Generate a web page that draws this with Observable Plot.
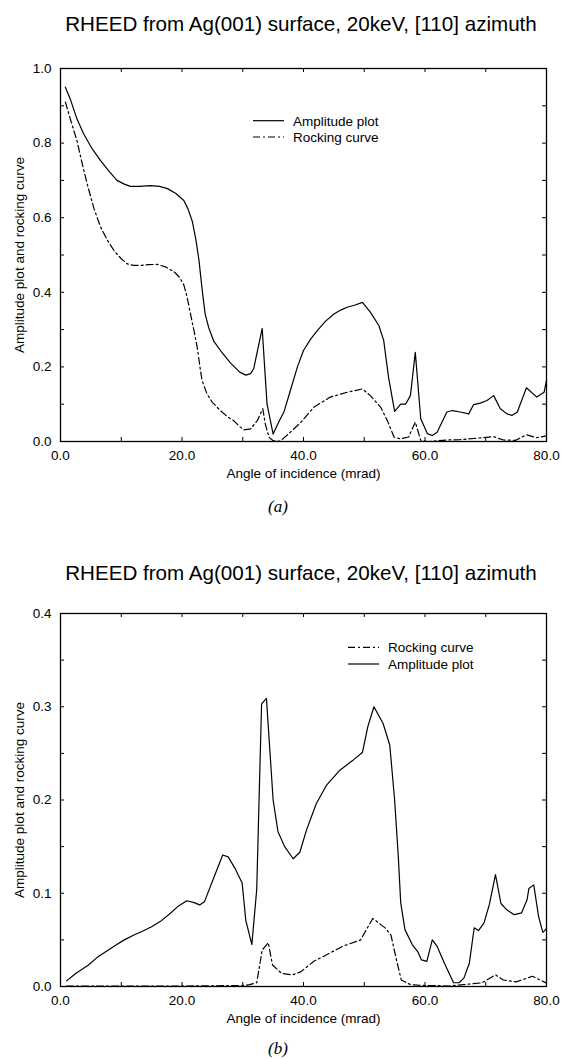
<!DOCTYPE html>
<html>
<head>
<meta charset="utf-8">
<script src="https://cdn.jsdelivr.net/npm/d3@7"></script>
<script src="https://cdn.jsdelivr.net/npm/@observablehq/plot@0.6"></script>
<style>
  html, body { margin: 0; padding: 0; background: #fff; }
  #page { position: relative; width: 561px; height: 1059px; overflow: hidden; background: #fff;
          font-family: "Liberation Sans", Arial, Helvetica, sans-serif; color: #000; }
  .title { position: absolute; left: 0; width: 602px; text-align: center; white-space: nowrap;
           font-size: 20.6px; line-height: 20px; }
  .cap { position: absolute; left: 0; width: 556px; text-align: center;
         font-family: "Liberation Serif", "DejaVu Serif", serif; font-style: italic; font-size: 17px; line-height: 17px; }
  .legend { position: absolute; left: 0; top: 0; }
</style>
</head>
<body>
<div id="page"></div>
<script>
// ---------- data ----------
const titleText = "RHEED from Ag(001) surface, 20keV, [110] azimuth";
const xLabel = "Angle of incidence (mrad)";
const yLabel = "Amplitude plot and rocking curve";
const legendAmplitude = "Amplitude plot";
const legendRocking = "Rocking curve";

const xDomain = [0, 80];
const xTicks = [0, 20, 40, 60, 80];
const xMinorTicks = [0, 10, 20, 30, 40, 50, 60, 70, 80];
const yDomainA = [0, 1];
const yTicksA = [0, 0.2, 0.4, 0.6, 0.8, 1.0];
const yMinorTicksA = [0, 0.1, 0.2, 0.3, 0.4, 0.5, 0.6, 0.7, 0.8, 0.9, 1.0];
const yDomainB = [0, 0.4];
const yTicksB = [0, 0.1, 0.2, 0.3, 0.4];
const yMinorTicksB = [0, 0.05, 0.1, 0.15, 0.2, 0.25, 0.3, 0.35, 0.4];

// panel (a): amplitude plot [angle, value]
const amplitudeA = [
  [0.8,0.95],[1.7,0.914],[2.7,0.865],[3.8,0.825],[5.2,0.785],[6.6,0.753],[8.0,0.724],[9.3,0.70],
  [10.5,0.69],[11.5,0.684],[13.0,0.684],[14.8,0.686],[16.3,0.684],[17.6,0.678],[19.0,0.665],[20.3,0.646],
  [21.0,0.623],[21.7,0.59],[22.3,0.54],[22.8,0.485],[23.3,0.41],[23.8,0.343],[24.4,0.305],[25.2,0.27],
  [26.5,0.24],[28.0,0.21],[29.5,0.186],[30.5,0.178],[31.3,0.182],[31.8,0.195],[33.2,0.303],[33.6,0.20],
  [34.0,0.10],[35.0,0.02],[36.0,0.055],[36.8,0.08],[37.9,0.14],[39.0,0.20],[40.0,0.244],[41.2,0.275],
  [42.3,0.298],[43.6,0.322],[45.0,0.342],[46.2,0.353],[47.2,0.36],[48.5,0.366],[49.7,0.373],[51.0,0.347],
  [52.4,0.311],[53.2,0.271],[54.0,0.172],[55.0,0.081],[56.0,0.10],[56.8,0.10],[57.6,0.123],[58.4,0.239],
  [59.3,0.061],[60.4,0.021],[61.2,0.016],[62.0,0.025],[63.6,0.079],[64.5,0.083],[65.8,0.079],[67.2,0.074],
  [68.0,0.099],[69.1,0.103],[70.2,0.11],[71.3,0.123],[72.4,0.088],[73.5,0.074],[74.3,0.07],[75.2,0.079],
  [76.7,0.144],[78.4,0.119],[79.6,0.132],[80.0,0.164]
];
// panel (a): rocking curve
const rockingA = [
  [0.8,0.91],[1.7,0.86],[2.7,0.807],[3.5,0.75],[4.4,0.69],[5.5,0.625],[6.6,0.575],[7.7,0.54],
  [8.8,0.512],[10.0,0.49],[11.0,0.476],[12.0,0.472],[13.2,0.472],[14.5,0.474],[15.9,0.475],[17.3,0.468],
  [18.7,0.455],[19.6,0.44],[20.3,0.42],[20.8,0.39],[21.4,0.342],[22.0,0.295],[22.5,0.253],[23.0,0.195],
  [23.3,0.164],[24.1,0.128],[25.0,0.105],[26.3,0.083],[27.5,0.066],[28.5,0.056],[29.5,0.04],[30.2,0.031],
  [31.3,0.034],[32.4,0.056],[33.3,0.088],[33.7,0.048],[34.3,0.012],[35.0,0.002],[36.2,0.001],[37.5,0.02],
  [39.5,0.05],[41.7,0.092],[44.4,0.119],[47.2,0.132],[49.7,0.141],[51.0,0.123],[52.7,0.092],[53.8,0.056],
  [54.9,0.012],[56.0,0.007],[57.3,0.012],[58.4,0.052],[59.3,0.003],[60.4,0.0],[62.0,0.002],[63.6,0.004],
  [65.8,0.005],[68.0,0.008],[71.3,0.013],[72.9,0.004],[74.9,0.003],[76.7,0.018],[78.4,0.01],[80.0,0.015]
];
// panel (b): amplitude plot
const amplitudeB = [
  [1.0,0.006],[2.5,0.014],[4.6,0.023],[6.0,0.031],[7.5,0.0375],[9.0,0.044],[10.5,0.05],[12.0,0.055],
  [13.4,0.059],[15.0,0.064],[16.4,0.0696],[18.0,0.078],[19.3,0.0857],[20.8,0.092],[22.0,0.09],[22.9,0.0875],
  [23.7,0.091],[25.2,0.116],[26.7,0.141],[27.6,0.139],[28.7,0.127],[29.9,0.111],[30.5,0.071],[31.5,0.045],
  [32.3,0.104],[33.1,0.303],[33.9,0.309],[35.0,0.20],[35.8,0.166],[36.9,0.15],[38.3,0.137],[39.4,0.144],
  [40.5,0.168],[42.1,0.196],[43.8,0.216],[46.0,0.232],[48.2,0.243],[49.7,0.251],[50.6,0.279],[51.6,0.300],
  [53.1,0.282],[54.2,0.259],[55.0,0.20],[55.6,0.14],[56.0,0.09],[56.7,0.061],[57.9,0.045],[58.8,0.0375],
  [59.4,0.0286],[60.3,0.027],[61.2,0.05],[62.0,0.043],[63.2,0.025],[64.7,0.004],[65.6,0.004],[66.4,0.009],
  [67.3,0.025],[68.1,0.063],[68.8,0.06],[69.7,0.068],[70.6,0.088],[71.6,0.12],[72.5,0.089],[73.5,0.082],
  [74.7,0.077],[75.9,0.079],[76.8,0.093],[77.1,0.105],[77.9,0.109],[78.7,0.075],[79.4,0.058],[80.0,0.062]
];
// panel (b): rocking curve
const rockingB = [
  [1.0,0.0005],[10.0,0.0005],[20.0,0.0005],[30.0,0.001],[31.1,0.002],[32.3,0.004],[33.2,0.039],[34.2,0.047],
  [34.9,0.023],[36.4,0.014],[38.2,0.0125],[39.6,0.016],[41.7,0.027],[43.8,0.034],[46.4,0.043],[49.4,0.05],
  [51.4,0.073],[53.5,0.0625],[54.4,0.055],[55.3,0.0286],[56.1,0.007],[57.6,0.002],[60.0,0.001],[62.0,0.001],
  [64.0,0.0005],[66.4,0.002],[69.4,0.004],[71.6,0.0125],[72.9,0.007],[75.0,0.005],[77.7,0.011],[80.0,0.0036]
];

// ---------- drawing ----------
const DASHDOT = "7,3,2,3";
const fmt = d3.format(".1f");
const page = document.getElementById("page");
const W = 561, H = 436, ML = 60, MR = 15, MT = 18, MB = 45, TICK = 4;
const innerW = W - ML - MR, innerH = H - MT - MB;

function panel(yDomain, yTicks, yMinor, amp, rock) {
  return Plot.plot({
    width: W, height: H,
    marginLeft: ML, marginRight: MR, marginTop: MT, marginBottom: MB,
    x: {domain: xDomain},
    y: {domain: yDomain},
    style: {fontFamily: "'Liberation Sans', Arial, Helvetica, sans-serif", fontSize: "13.5px", color: "black", background: "white", overflow: "visible"},
    marks: [
      Plot.axisX(xTicks, {anchor: "bottom", tickSize: 0, tickPadding: 9, tickFormat: fmt,
        label: xLabel, labelAnchor: "center", labelArrow: "none", labelOffset: 36, fill: "black"}),
      Plot.axisY(yTicks, {anchor: "left", tickSize: 0, tickPadding: 9, tickFormat: fmt,
        label: yLabel, labelAnchor: "center", labelArrow: "none", labelOffset: 46, fill: "black"}),
      // inward tick marks on all four sides
      Plot.ruleX(xMinorTicks, {x: d => d, insetTop: innerH - TICK, stroke: "black", strokeWidth: 1}),
      Plot.ruleX(xMinorTicks, {x: d => d, insetBottom: innerH - TICK, stroke: "black", strokeWidth: 1}),
      Plot.ruleY(yMinor, {y: d => d, insetRight: innerW - TICK, stroke: "black", strokeWidth: 1}),
      Plot.ruleY(yMinor, {y: d => d, insetLeft: innerW - TICK, stroke: "black", strokeWidth: 1}),
      Plot.frame({stroke: "black", strokeWidth: 1.3}),
      Plot.line(amp, {x: d => d[0], y: d => d[1], stroke: "black", strokeWidth: 1.2}),
      Plot.line(rock, {x: d => d[0], y: d => d[1], stroke: "black", strokeWidth: 1.2, strokeDasharray: DASHDOT})
    ]
  });
}

function addDiv(cls, top, text) {
  const el = document.createElement("div");
  el.className = cls;
  el.style.top = top + "px";
  el.textContent = text;
  page.appendChild(el);
  return el;
}

function addLegend(entries) {
  const ns = "http://www.w3.org/2000/svg";
  const svg = document.createElementNS(ns, "svg");
  svg.setAttribute("class", "legend");
  svg.setAttribute("width", 561);
  svg.setAttribute("height", 1059);
  svg.style.pointerEvents = "none";
  for (const e of entries) {
    const line = document.createElementNS(ns, "line");
    line.setAttribute("x1", e.x0); line.setAttribute("x2", e.x0 + 31);
    line.setAttribute("y1", e.y); line.setAttribute("y2", e.y);
    line.setAttribute("stroke", "black"); line.setAttribute("stroke-width", 1.2);
    if (e.dash) line.setAttribute("stroke-dasharray", DASHDOT);
    svg.appendChild(line);
    const t = document.createElementNS(ns, "text");
    t.setAttribute("x", e.x0 + 40); t.setAttribute("y", e.y + 4.8);
    t.setAttribute("font-family", "'Liberation Sans', Arial, sans-serif");
    t.setAttribute("font-size", "13.5px");
    t.textContent = e.label;
    svg.appendChild(t);
  }
  page.appendChild(svg);
}

function place(svg, top) {
  svg.style.position = "absolute";
  svg.style.top = top + "px";
  svg.style.left = "0px";
  page.appendChild(svg);
}

// Panel (a)
addDiv("title", 14, titleText);
place(panel(yDomainA, yTicksA, yMinorTicksA, amplitudeA, rockingA), 50);
addDiv("cap", 497.5, "(a)");

// Panel (b)
addDiv("title", 563, titleText);
place(panel(yDomainB, yTicksB, yMinorTicksB, amplitudeB, rockingB), 595);
addDiv("cap", 1040, "(b)");

addLegend([
  {x0: 253, y: 120.7, dash: false, label: legendAmplitude},
  {x0: 253, y: 137, dash: true, label: legendRocking},
  {x0: 348, y: 647.3, dash: true, label: legendRocking},
  {x0: 348, y: 664, dash: false, label: legendAmplitude}
]);
</script>
</body>
</html>
